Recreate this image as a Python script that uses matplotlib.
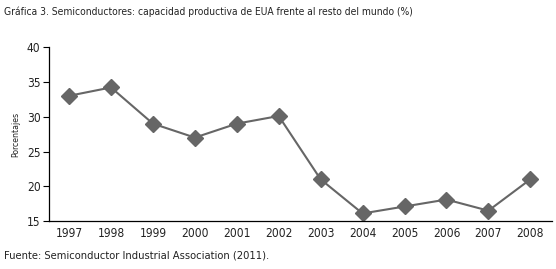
import matplotlib.pyplot as plt
from matplotlib import font_manager

# datos
anios = ["1997", "1998", "1999", "2000", "2001", "2002",
         "2003", "2004", "2005", "2006", "2007", "2008"]
porcentajes = [33.0, 34.2, 29.0, 27.0, 29.0, 30.1,
               21.0, 16.1, 17.1, 18.1, 16.5, 21.0]
y_ticks = [15, 20, 25, 30, 35, 40]

# buscar una fuente estrecha (la original es condensada)
estrecha = None
for f in font_manager.fontManager.ttflist:
    if f.style != "normal" or f.weight not in (400, "normal", "regular"):
        continue
    if "Narrow" in f.name or "Condensed" in f.name or f.stretch in ("condensed", "semi-condensed"):
        estrecha = f
        break

if estrecha is not None:
    plt.rcParams["font.family"] = [estrecha.name, "DejaVu Sans"]
    plt.rcParams["font.stretch"] = estrecha.stretch
    escala = 1.0
else:
    plt.rcParams["font.family"] = ["DejaVu Sans"]
    escala = 0.8

fig = plt.figure(figsize=(5.56, 2.69), dpi=100)
ax = fig.add_axes([0.088, 0.178, 0.905, 0.647])

x = range(len(anios))
ax.plot(x, porcentajes, color="#666666", linewidth=1.5, marker="D",
        markersize=8.5, markerfacecolor="#666666", markeredgecolor="#666666")

ax.set_xlim(-0.48, len(anios) - 0.48)
ax.set_ylim(15, 40)
ax.set_yticks(y_ticks)
ax.set_xticks(list(x))
ax.set_xticklabels(anios)
ax.tick_params(axis="x", length=0, pad=4, labelsize=8.6 * escala, labelcolor="#222222")
ax.tick_params(axis="y", length=4, width=0.8, pad=2, labelsize=8.6 * escala, labelcolor="#222222")
ax.spines["top"].set_visible(False)
ax.spines["right"].set_visible(False)
for s in ("left", "bottom"):
    ax.spines[s].set_linewidth(0.9)
ax.set_ylabel("Porcentajes", fontsize=6.2 * escala, labelpad=5, color="#222222")

fig.text(0.008, 0.955, "Gráfica 3. Semiconductores: capacidad productiva de EUA frente al resto del mundo (%)",
         fontsize=7.4 * escala, va="center", ha="left", color="#222222")
fig.text(0.008, 0.05, "Fuente: Semiconductor Industrial Association (2011).",
         fontsize=8.0 * escala, va="center", ha="left", color="#222222")

fig.savefig("out.png", dpi=100)
